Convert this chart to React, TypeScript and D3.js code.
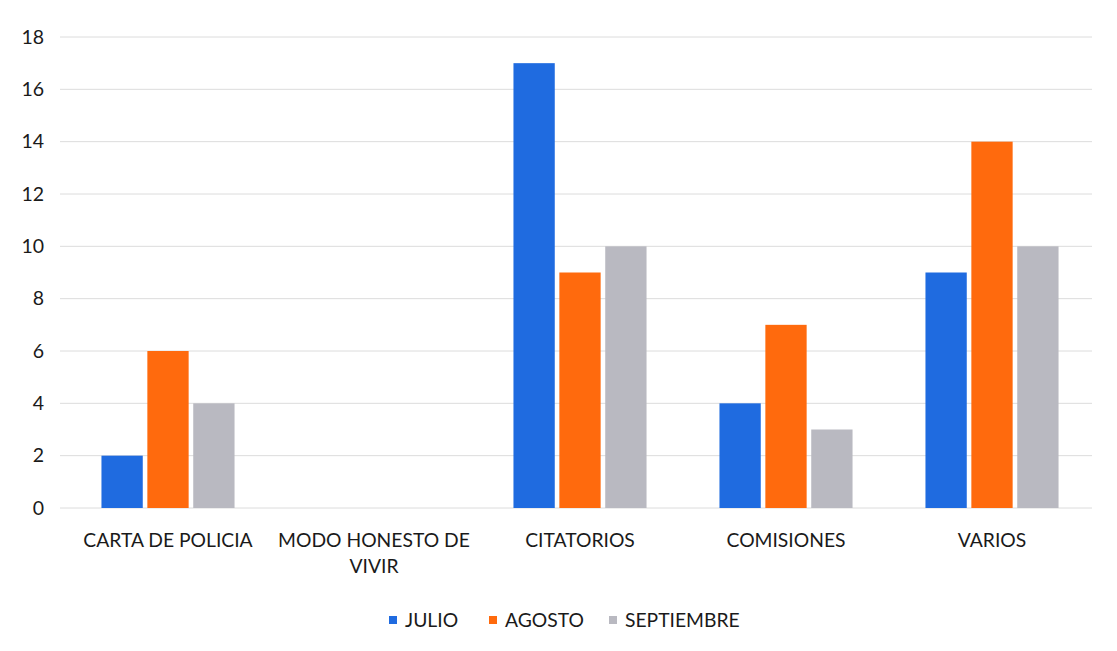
import React, { useEffect, useRef } from "react";
import * as d3 from "d3";

const categories = ["CARTA DE POLICIA", "MODO HONESTO DE VIVIR", "CITATORIOS", "COMISIONES", "VARIOS"];
const series = ["JULIO", "AGOSTO", "SEPTIEMBRE"];
const julio = [2, 0, 17, 4, 9];
const agosto = [6, 0, 9, 7, 14];
const septiembre = [4, 0, 10, 3, 10];
const yTicks = [0, 2, 4, 6, 8, 10, 12, 14, 16, 18];
const colors = ["#1f6be0", "#ff6a0d", "#b9b9c1"];

const FONT = "Lato, 'Open Sans', sans-serif";

function wrap(label: string, maxChars: number) {
  const lines: string[] = [];
  let cur = "";
  label.split(" ").forEach((w) => {
    const next = cur ? cur + " " + w : w;
    if (next.length > maxChars && cur) {
      lines.push(cur);
      cur = w;
    } else cur = next;
  });
  if (cur) lines.push(cur);
  return lines;
}

export default function App() {
  const svgRef = useRef<SVGSVGElement>(null);
  const width = 1117;
  const height = 651;

  useEffect(() => {
    const svg = d3.select(svgRef.current);
    svg.selectAll("*").remove();

    const values = [julio, agosto, septiembre];
    const data = categories.map((c, i) => ({
      category: c,
      vals: series.map((s, j) => ({ key: s, value: values[j][i], color: colors[j] })),
    }));

    const x0 = d3
      .scaleBand()
      .domain(categories)
      .range([65, 1095])
      .paddingInner(0.354)
      .paddingOuter(0.177);
    const x1 = d3.scaleBand().domain(series).range([0, x0.bandwidth()]).paddingInner(0.1);
    const y = d3.scaleLinear().domain([0, 18]).range([508, 37]);

    // gridlines
    svg
      .append("g")
      .selectAll("line")
      .data(yTicks)
      .enter()
      .append("line")
      .attr("x1", 60)
      .attr("x2", 1092)
      .attr("y1", (d) => y(d))
      .attr("y2", (d) => y(d))
      .attr("stroke", "#dcdcdc")
      .attr("stroke-width", 1);

    // y labels
    svg
      .append("g")
      .selectAll("text")
      .data(yTicks)
      .enter()
      .append("text")
      .attr("x", 44)
      .attr("y", (d) => y(d))
      .attr("dy", "0.35em")
      .attr("text-anchor", "end")
      .attr("font-family", FONT)
      .attr("font-size", 19.5)
      .attr("fill", "#1a1a1a")
      .text((d) => d);

    // bars
    const groups = svg
      .append("g")
      .selectAll("g")
      .data(data)
      .enter()
      .append("g")
      .attr("transform", (d) => `translate(${x0(d.category)},0)`);
    groups
      .selectAll("rect")
      .data((d) => d.vals)
      .enter()
      .append("rect")
      .attr("x", (d) => x1(d.key)!)
      .attr("width", x1.bandwidth())
      .attr("y", (d) => y(d.value))
      .attr("height", (d) => y(0) - y(d.value))
      .attr("fill", (d) => d.color);

    // category labels
    const cat = svg
      .append("g")
      .selectAll("text")
      .data(categories)
      .enter()
      .append("text")
      .attr("x", (d) => x0(d)! + x0.bandwidth() / 2)
      .attr("y", 547)
      .attr("text-anchor", "middle")
      .attr("font-family", FONT)
      .attr("font-size", 19.3)
      .attr("fill", "#1a1a1a");
    cat
      .selectAll("tspan")
      .data((d) => wrap(d, 16))
      .enter()
      .append("tspan")
      .attr("x", function () {
        return (this as any).parentNode.getAttribute("x");
      })
      .attr("dy", (_d, i) => (i === 0 ? 0 : 26))
      .text((d) => d);

    // legend
    const legendX = [389, 489, 609];
    const leg = svg
      .append("g")
      .selectAll("g")
      .data(series)
      .enter()
      .append("g")
      .attr("transform", (_d, i) => `translate(${legendX[i]},620)`);
    leg
      .append("rect")
      .attr("x", 0)
      .attr("y", -4)
      .attr("width", 8)
      .attr("height", 8)
      .attr("fill", (_d, i) => colors[i]);
    leg
      .append("text")
      .attr("x", 16)
      .attr("y", 0)
      .attr("dy", "0.35em")
      .attr("font-family", FONT)
      .attr("font-size", 19.3)
      .attr("fill", "#1a1a1a")
      .text((d) => d);
  }, []);

  return (
    <svg
      ref={svgRef}
      width={width}
      height={height}
      style={{ position: "absolute", left: 0, top: 0, background: "#fff" }}
    ></svg>
  );
}
